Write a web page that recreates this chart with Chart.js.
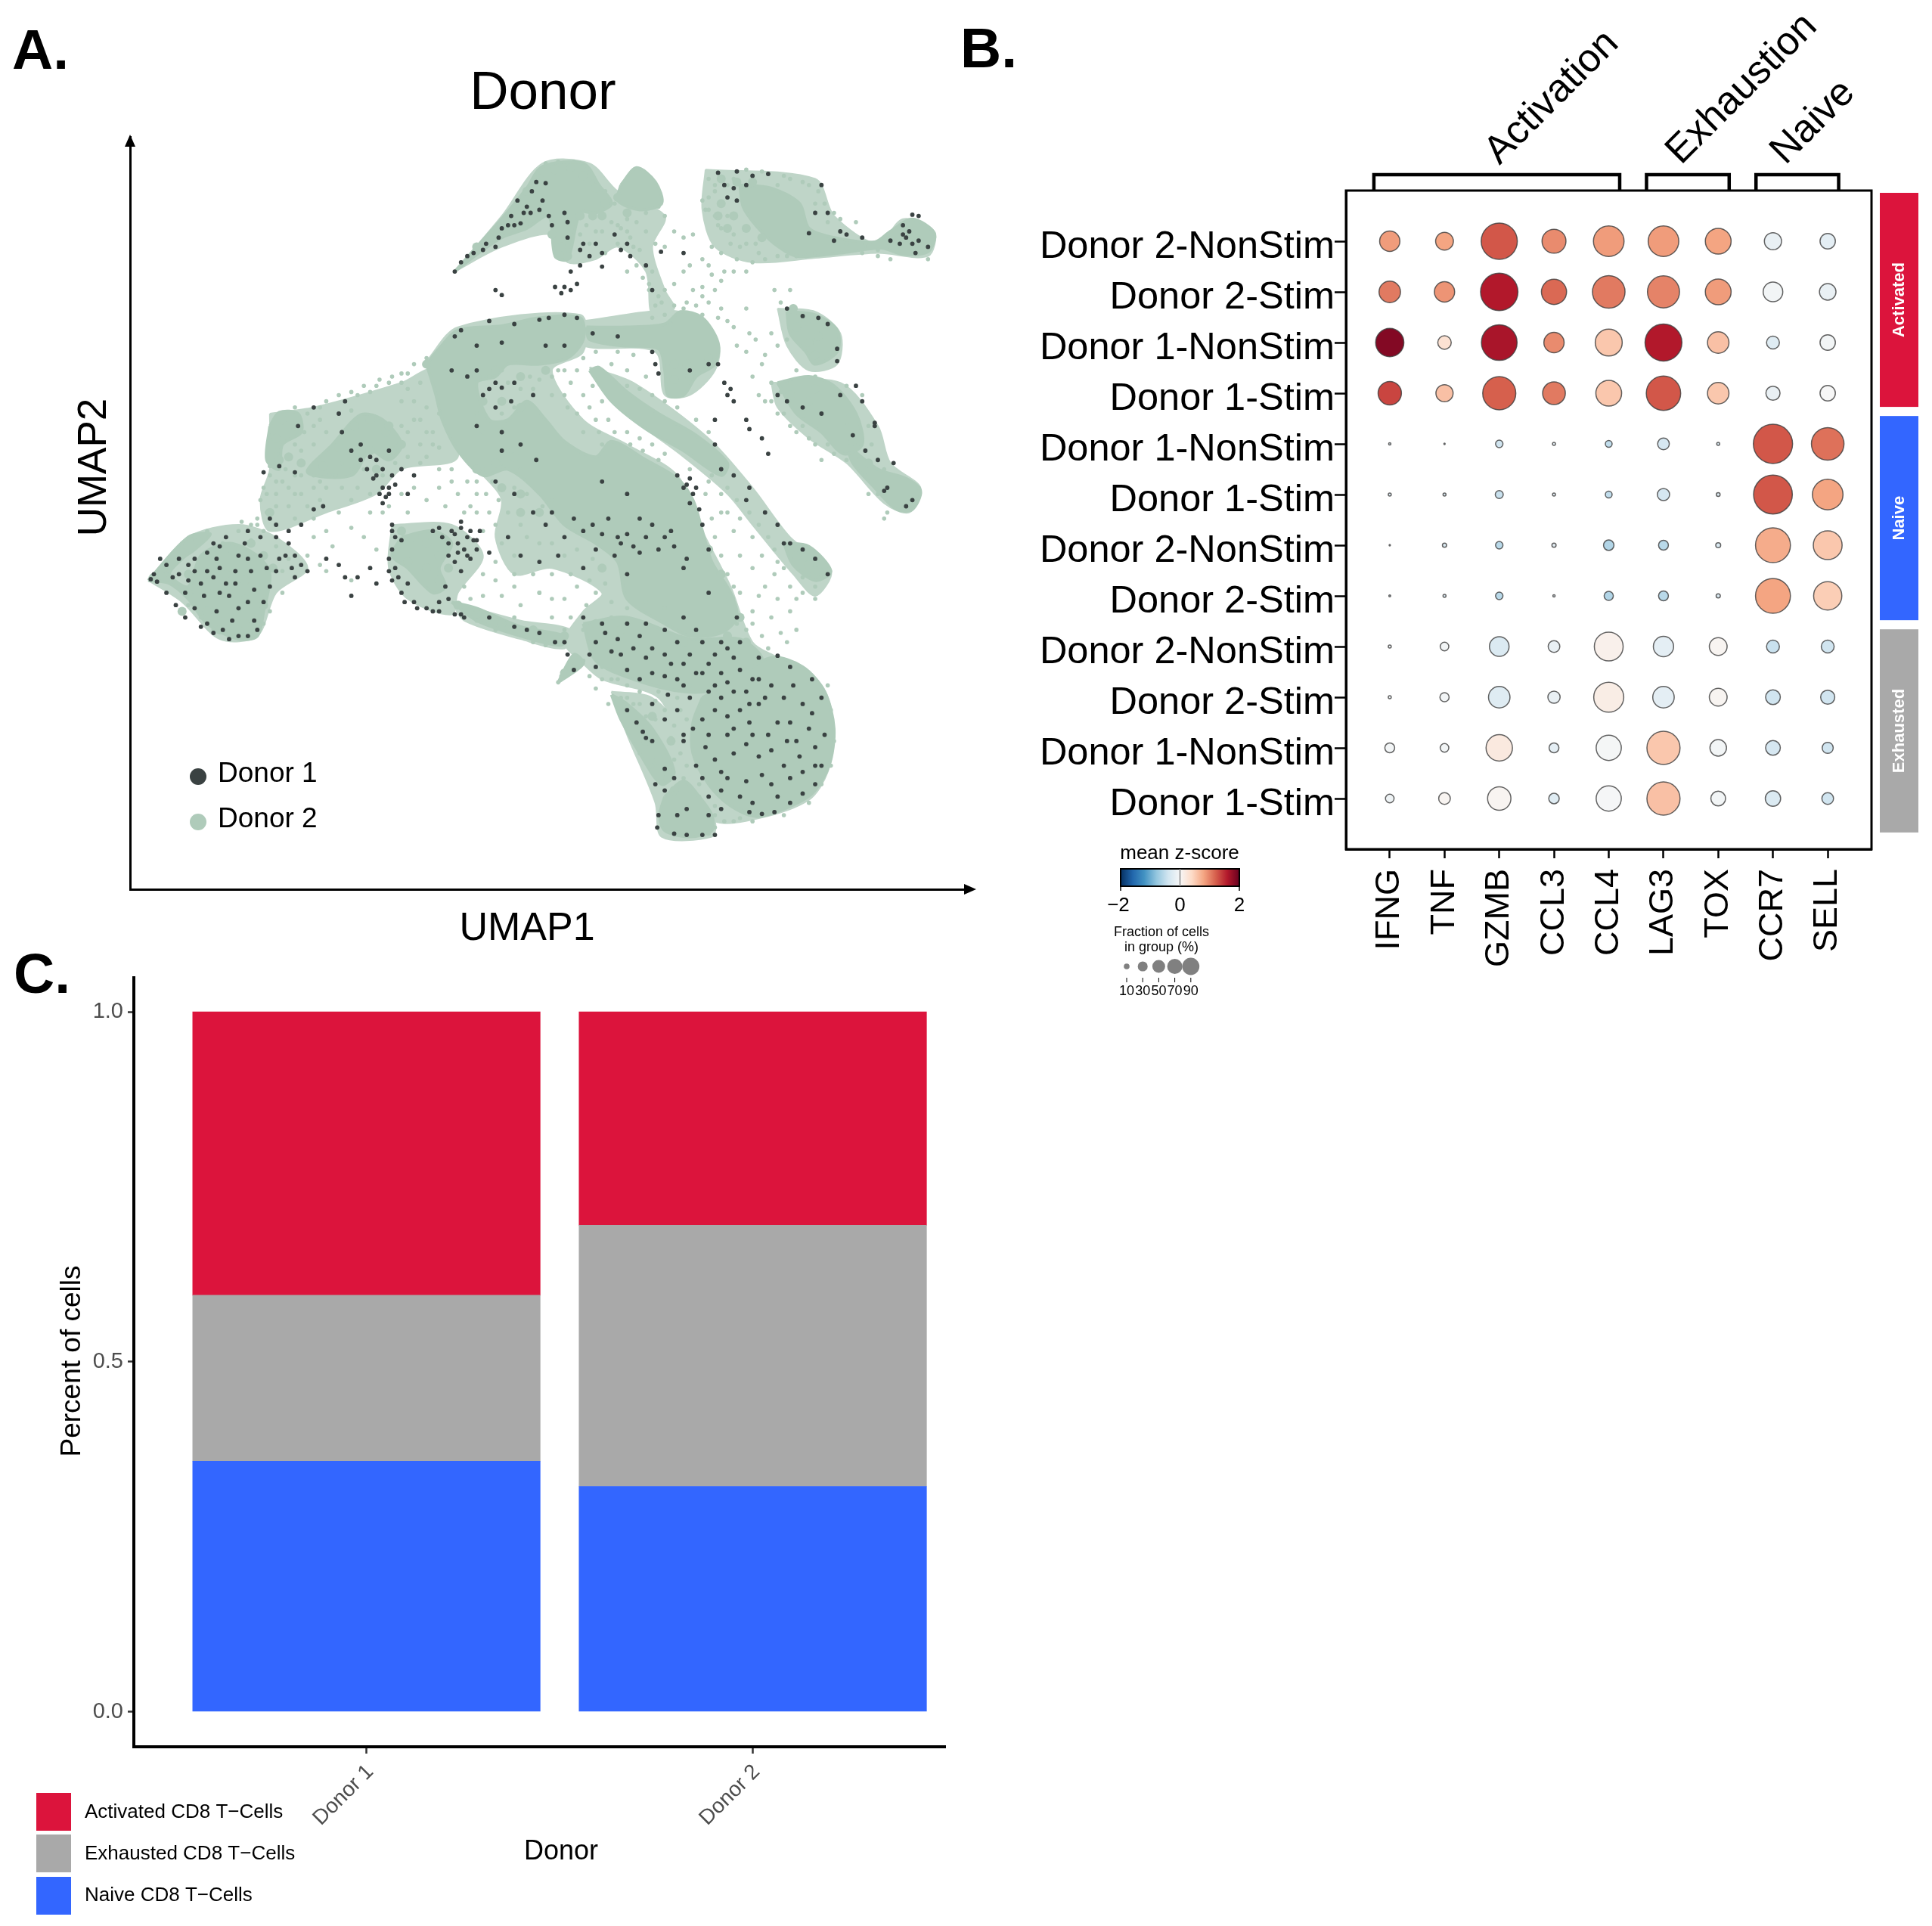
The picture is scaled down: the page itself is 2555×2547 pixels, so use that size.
<!DOCTYPE html>
<html><head><meta charset="utf-8">
<style>html,body{margin:0;padding:0;background:#fff;width:2555px;height:2547px;overflow:hidden}canvas{position:absolute;left:0;top:0}</style>
<script src="https://cdn.jsdelivr.net/npm/chart.js@4"></script>
</head><body>
<canvas id="a" width="2555" height="2547"></canvas>
<canvas id="b" width="2555" height="2547"></canvas>
<canvas id="c" width="2555" height="2547"></canvas>
<script>
// ---------- Panel A values (UMAP units, no ticks in the source) ----------
// NOTE: the source has many thousands of cells that cannot be read one by one.
// These lists are an approximation estimated by eye: donor1Cells / donor2Sparse are a
// sample of visible dots, donor2Dense are enlarged dots, and donor2Regions / donor2Envelopes
// are hand-traced outlines standing in for areas where dots merge into a solid mass.
const donor1Cells=[[735,425],[725,440],[745,415],[770,405],[790,400],[775,395],[815,350],[825,325],[835,345],[855,295],[870,297],[848,310],[800,370],[810,365],[830,362],[846,345],[860,340],[875,350],[900,345],[905,385],[925,405],[950,395],[980,380],[990,405],[1005,415],[1030,430],[900,465],[910,470],[895,475],[885,465],[920,460],[910,440],[790,470],[800,478],[925,430],[940,415],[960,432],[1040,470],[1145,280],[1175,278],[1200,285],[1225,282],[1310,300],[1160,320],[1175,325],[1300,345],[1320,345],[1340,375],[1290,378],[1350,380],[1440,365],[1455,348],[1465,350],[1450,375],[1435,395],[1460,410],[1480,400],[1465,390],[1445,385],[1420,390],[1054,408],[1090,410],[735,535],[725,545],[780,520],[820,525],[860,518],[875,515],[900,510],[920,515],[945,540],[985,545],[1040,570],[1045,590],[1100,600],[1050,605],[1130,590],[1145,590],[1155,620],[1165,630],[1170,650],[1190,680],[1215,710],[1225,735],[1160,640],[1195,695],[1140,680],[1140,720],[1150,760],[1255,500],[1280,512],[1305,515],[1320,525],[1335,565],[1335,585],[1255,650],[1280,660],[1310,670],[1340,640],[1365,625],[1375,650],[1395,685],[1360,705],[1400,745],[1425,750],[1415,790],[1445,820],[1455,810],[1395,690],[1380,730],[1410,795],[1240,640],[1080,770],[1095,785],[1105,800],[1115,825],[1120,850],[1130,890],[1170,770],[1195,790],[1190,810],[1220,830],[1240,850],[1260,880],[1280,890],[1300,905],[1320,930],[1250,880],[240,938],[250,942],[265,915],[330,895],[345,905],[340,880],[360,870],[395,860],[415,870],[440,870],[460,880],[470,900],[490,925],[470,935],[430,950],[420,975],[400,925],[380,900],[350,920],[320,945],[295,960],[310,985],[330,1010],[355,1020],[380,1030],[410,1020],[300,915],[275,935],[445,905],[415,900],[390,880],[365,965],[380,985],[345,990],[500,825],[515,820],[480,850],[460,860],[440,850],[430,840],[550,650],[540,670],[545,700],[560,730],[590,740],[585,760],[600,770],[610,790],[620,790],[630,785],[615,805],[640,760],[620,730],[650,800],[660,770],[470,765],[420,765],[445,755],[475,690],[500,660],[625,850],[630,870],[625,890],[630,920],[625,940],[640,960],[660,975],[680,985],[700,975],[700,990],[720,860],[735,855],[745,870],[730,880],[740,890],[765,860],[760,890],[715,900],[700,855],[690,860],[725,910],[710,950],[715,970],[735,995],[750,905],[780,895],[590,920],[570,935],[550,935],[560,965],[600,945],[540,915],[520,905],[790,620],[780,630],[800,628],[760,600],[720,600],[815,650],[800,700],[790,780],[810,870],[830,900],[820,800],[850,830],[870,850],[900,870],[930,860],[950,890],[970,840],[985,870],[1000,865],[1020,840],[1040,850],[980,900],[930,920],[890,900],[860,910],[1000,930],[1050,890],[1070,860],[1090,920],[1130,960],[1000,800],[960,780],[900,1040],[930,1000],[960,1010],[950,1040],[975,1055],[990,1060],[1020,1030],[1040,1050],[1060,1060],[1080,1040],[1100,1060],[1120,1040],[1140,1060],[1160,1050],[1175,1000],[1180,1040],[1030,1010],[1060,1020],[1090,1000],[1110,1020],[950,1080],[1000,1085],[1040,1090],[1080,1100],[1120,1090],[1150,1090],[1180,1085],[1210,1065],[1240,1062],[1260,1080],[1200,1100],[1170,1120],[1130,1120],[1100,1130],[1140,1150],[905,1060],[915,1085],[885,1040],[860,1025],[840,1020],[820,1015],[780,1000],[740,1000],[725,995],[1150,1130],[1180,1150],[1210,1140],[1250,1130],[1280,1140],[1310,1130],[1290,1180],[1270,1200],[1240,1170],[1200,1190],[1160,1190],[1125,1210],[1140,1230],[1170,1220],[1210,1225],[1250,1240],[1280,1250],[1310,1240],[1300,1210],[1230,1270],[1190,1265],[1160,1260],[1200,1300],[1215,1318],[1235,1315],[1260,1300],[1280,1285],[1300,1270],[1130,1190],[1105,1180],[1090,1200],[1110,1240],[1130,1290],[1150,1280],[1000,1150],[1015,1170],[1025,1185],[1030,1195],[1040,1200],[1060,1165],[1090,1190],[1060,1245],[1075,1260],[1045,1270],[1060,1280],[1050,1320],[1048,1340],[1075,1350],[1095,1352],[1120,1352],[1140,1352],[1095,1310],[1080,1320],[1130,1320],[1040,1140],
[285,905],[310,925],[330,925],[360,945],[395,905],[425,920],[300,940],[340,935],[375,945],[405,955],[440,925],[465,920],[455,900],[265,960],[280,980],[295,1000],[320,1015],[340,1025],[365,1035],[395,1030],[405,1005],[395,975],[370,1005],[350,960],[375,925],[325,965],[350,885],[310,905],[285,930],[255,905],[245,930],[480,915],
[735,845],[750,860],[725,865],[755,875],[745,900],[715,880],[705,870],[760,875],[730,895],[735,925],[645,975],[665,985],[690,990],[625,860],[640,875],[620,905],[635,935],[650,945],[620,925],
[600,745],[610,760],[595,775],[605,800],[625,770],[620,800],[575,745],[610,815],[575,720],
[990,880],[1010,885],[1030,870],[1020,895],[960,865],[945,850],[915,840],[880,830],[1060,870],[1075,885],[1095,905],[1090,790],[1100,775],[1110,790],[1100,815],
[1010,1050],[1030,1065],[1070,1075],[1110,1090],[1130,1075],[1150,1040],[1170,1065],[1090,1075],[1060,1095],[1020,1100],[985,1035],[965,1025],[940,1060],[1000,1010],[1140,1110],[1160,1105],[1190,1120],[1210,1100],[1230,1110],[1220,1130],[1195,1140],[1160,1160],[1120,1165],[1080,1150],[1065,1125],[1090,1110],
[1170,1180],[1190,1205],[1225,1190],[1255,1200],[1260,1170],[1295,1155],[1215,1255],[1240,1290],[1180,1290],[1150,1310],[1195,1315],[1260,1260],[1275,1225],[1230,1215],[1150,1250],[1120,1260],[1300,1240],[1315,1190],[1195,1170],[1265,1110],[1295,1100],
[820,365],[840,335],[865,325],[880,365],[905,360],[930,395],[960,410],[1000,395],[795,385],[755,410],[1155,300],[1170,305],[1190,300],[1330,390],[1375,385],[1440,380],[1455,395],
[900,560],[870,560],[800,555],[760,560],[745,610],[770,640],[790,660],[820,620],[850,640],[760,690],[800,730],[830,720],[855,745]];
const donor2Sparse=[[870,265],[890,262],[915,262],[930,270],[945,295],[965,310],[980,330],[1000,355],[1030,345],[1050,335],[1060,350],[975,360],[990,370],[960,375],[1010,400],[1040,440],[1050,480],[1035,470],[1060,470],[1075,460],[1090,440],[1100,430],[1120,420],[1130,430],[1150,455],[1140,470],[1120,480],[1110,495],[1095,490],[1075,495],[1060,510],[1120,510],[1150,500],[1170,440],[1200,425],[1190,440],[1075,375],[1090,385],[1105,380],[1140,350],[1125,340],[1130,320],[1140,310],[1150,370],[1170,380],[1180,400],[1210,410],[1240,415],[1270,415],[1300,410],[1290,300],[1260,290],[1240,300],[1300,330],[1320,360],[1340,355],[1365,360],[1420,420],[1480,420],[1400,405],[1380,395],[1235,470],[1245,490],[1260,470],[1190,500],[1195,540],[1170,530],[1215,590],[1200,610],[1240,560],[1255,550],[1230,540],[1220,575],[1210,640],[1220,650],[1240,670],[1260,690],[1270,700],[1320,720],[1310,745],[1350,745],[1385,800],[1410,840],[1415,830],[1465,790],[930,580],[950,570],[975,590],[1000,600],[1020,630],[1040,640],[1060,650],[1080,660],[1110,680],[1130,700],[1000,625],[985,570],[1010,575],[1030,610],[960,650],[950,680],[930,640],[910,620],[890,600],[880,640],[905,660],[930,700],[960,720],[980,700],[1000,700],[1020,710],[1040,720],[1060,735],[1100,760],[1130,780],[1150,800],[1160,830],[1170,860],[1180,900],[1200,920],[1220,950],[1240,970],[1260,990],[1280,960],[1300,950],[1180,960],[1200,990],[1190,1020],[1230,1000],[1160,930],[1140,870],[1150,900],[1170,950],[1240,910],[1260,950],[1290,930],[1300,970],[1255,1040],[1270,1020],[1225,1050],[420,790],[415,810],[425,830],[440,800],[460,820],[480,800],[500,790],[510,780],[525,770],[545,790],[570,790],[590,800],[560,810],[540,830],[520,860],[530,885],[560,855],[580,870],[600,890],[590,830],[610,830],[650,830],[620,820],[680,810],[700,790],[720,780],[770,760],[785,780],[795,810],[810,830],[830,850],[780,830],[760,800],[750,820],[740,830],[820,790],[840,800],[865,820],[880,810],[900,830],[830,760],[810,730],[800,750],[430,770],[470,660],[490,670],[510,660],[540,640],[560,635],[600,625],[620,620],[640,620],[650,605],[660,590],[680,580],[560,665],[520,700],[500,720],[480,730],[470,800],[700,670],[680,660],[670,680],[680,700],[660,650],[650,700],[640,690],[490,900],[500,870],[520,925],[510,915],[560,940],[760,990],[790,1000],[810,1010],[840,1020],[870,1030],[900,1020],[760,1005],[820,1000],[790,1020],[900,1090],[910,1075],[930,1070],[950,1055],[890,1105],[895,1095],[915,1080],[240,935],[255,925],[270,905],[290,880],[310,870],[330,860],[355,880],[380,860],[400,875],[440,885],[460,905],[450,925],[450,960],[430,990],[420,1010],[395,1030],[370,1030],[340,1020],[320,1000],[300,980],[280,950],[265,930],[400,850],[385,845],[880,1000],[910,1000],[880,970],[860,960],[820,950],[790,940],[770,930],[740,950],[750,970],[770,965],[800,965],[830,980],[920,950],[950,960],[975,975],[1000,985],[1030,975],[1060,985],[930,1020],[960,1080],[975,1100],[1000,1110],[990,1130],[1020,1120],[1050,1120],[1080,1130],[1100,1110],[1060,1150],[1045,1165],[1050,1200],[1070,1195],[1075,1230],[1020,1220],[1040,1240],[1090,1260],[1075,1285],[1150,1310],[1180,1310],[1170,1330],[1130,1350],[1140,1340],[1320,1110],[1325,1150],[1330,1200],[1325,1240],[1310,1270],[1290,1300],[1250,1320],[1200,1330],[1180,1325],
[1140,300],[1130,340],[1120,325],[1160,300],[1170,290],[1190,275],[1215,278],[1250,285],[1280,295],[1305,310],[1315,330],[1330,345],[1130,290],[1145,365],[1160,350],[1165,395],[1190,395],[1205,395],[1135,400],[1150,410],[1175,420],[1220,420],[1255,415],[1285,415],[1310,412],[1350,395],[1375,410],[1400,415],[985,365],[1000,375],[1015,360],[1030,375],[1045,395],[1060,400],[1005,385],[1020,405],[985,395],[965,410],[950,375],[940,395],[925,380],[935,365],[1000,440],[1015,430],[1025,450],[1035,460],[1045,495],[1055,490],[1040,515],[1070,525],[1090,500],[1105,470],[1120,465],[1135,445],[1155,440],[1130,490],[1145,515],[1160,520],[1175,560],[1190,570],[1205,550],
[650,630],[670,620],[640,650],[660,680],[690,700],[700,725],[680,740],[700,760],[720,760],[745,780],[760,780],[775,800],[730,800],[710,820],[760,830],[790,850],[770,860],[800,880],[820,900],[840,870],[860,880],[880,880],[900,900],[920,890],[945,905],[940,940],[910,930],[880,930],[850,930],[820,930],[790,910],[860,960],[900,970],[935,980],[965,945],[975,1000],[800,600],[810,620],[830,630],[850,630],[820,660],[780,610],[800,670],[770,700],[760,670],[880,610],[900,640],[920,670],[940,660],[860,615],[845,610],[900,600],[920,600],[945,625],[970,680],[955,700],[985,720],[1005,720],[1025,730],[1050,745],
[1135,770],[1160,790],[1175,810],[1195,830],[1210,850],[1225,870],[1200,870],[1180,840],[1150,830],[1135,840],[1125,800],[1215,900],[1235,890],[1250,920],[1280,935],[1270,970],[1310,930],[1235,930],[1210,965],[1175,1010],[1200,1010],[1215,1030],[1245,1025],
[420,860],[410,850],[425,800],[410,840],[440,820],[460,790],[480,770],[500,770],[520,790],[510,810],[490,820],[470,840],[500,840],[440,780],[430,755],[470,770],[450,780],[580,760],[560,760],[575,740],[545,750],[535,770],[610,770],[630,750],[650,740],[670,720],[690,720],[670,750],[660,790],[640,800],[470,720],[485,700],[500,690],[510,680],[455,760],[440,730],[520,650],[570,640],[590,635],[625,610],[640,605],[605,615],[580,625],
[1260,620],[1230,620],[1245,635],[1230,650],[1250,670],[1280,690],[1290,710],[1300,720],[1330,735],[1370,745],[1380,770],[1400,800],[1370,700],[1385,690],[1390,720],[1410,760],[1375,640],[1350,625],[1300,610],[1270,600],
[850,1040],[870,1045],[960,1100],[940,1095],[950,1115],[970,1140],[985,1100],[1020,1140],[1045,1135],[1085,1150],[1095,1165],[1075,1175],[1085,1220],[1095,1240],[1115,1270],[1115,1290],[1140,1305],[1140,1320],[1155,1330],[1030,1160],[1010,1140],[1000,1130]];
const donor2Dense=[[840,310],[820,340],[800,365],[780,385],[760,400],[860,290],[885,275],[910,272],[930,285],[950,305],[965,330],[960,350],[880,380],[895,400],[905,415],[925,350],[945,350],[860,345],[835,365],[985,320],[1000,345],[1150,290],[1175,295],[1200,295],[1150,330],[1170,350],[1190,370],[1215,385],[1160,370],[1145,350],[950,540],[980,545],[1095,590],[1075,615],[1100,610],[1075,590],[1130,580],[680,590],[760,610],[790,600],[830,610],[870,600],[770,650],[800,650],[800,700],[830,660],[760,760],[790,750],[820,740],[800,790],[830,800],[860,830],[830,830],[1130,890],[1150,930],[1165,970],[1180,1000],[960,920],[1090,1040],[1130,1040],[1160,1030],[1190,1040],[950,1010],[990,1020],[1270,900],[1290,915],[1305,925],[1285,520],[1305,545],[1290,555],[1270,530],[1300,575],[1265,500],[1260,640],[1290,650],[1300,630],[1350,680],[1360,715],[1385,750],[450,680],[470,690],[440,710],[460,740],[445,745],[480,750],[565,690],[590,680],[615,700],[540,725],[515,755],[590,730],[625,730],[620,690],[640,720],[430,830],[600,760],[640,880],[660,870],[680,880],[700,900],[650,910],[680,920],[700,940],[715,920],[640,860],[730,980],[760,995],[800,1010],[850,1020],[900,1030],[900,1090],[260,920],[245,935],[290,895],[315,875],[340,900],[370,890],[400,880],[420,900],[435,920],[300,930],[330,930],[360,930],[390,940],[420,950],[330,960],[360,960],[390,970],[420,980],[300,960],[330,990],[360,1000],[390,1010],[410,1000],[350,1020],[290,990],[990,1150],[1010,1175],[1030,1200],[1050,1230],[1065,1260],[1075,1280],[1040,1160],[1070,1200]];
const donor2Regions=[
[[725,440],[760,400],[800,355],[840,305],[865,270],[930,265],[955,300],[975,330],[950,345],[925,345],[905,420],[885,415],[875,350],[840,370],[800,385],[770,405]],
[[990,300],[1015,272],[1045,295],[1055,330],[1020,340],[985,325]],
[[1180,300],[1230,305],[1275,330],[1290,370],[1330,385],[1395,392],[1420,375],[1455,355],[1490,378],[1480,408],[1440,412],[1405,402],[1340,410],[1270,415],[1235,395],[1205,365],[1185,335]],
[[680,590],[700,565],[730,535],[800,528],[860,515],[925,515],[930,550],[905,580],[860,590],[810,590],[790,610],[760,620],[780,680],[810,680],[840,650],[870,680],[900,715],[950,740],[975,715],[1030,745],[1080,775],[1105,810],[1120,860],[1135,910],[1165,960],[1175,1000],[1150,1025],[1100,1030],[1060,1010],[1000,970],[985,910],[950,880],[900,850],[860,800],[810,760],[770,770],[730,730],[705,680],[695,640]],
[[935,530],[1000,530],[1060,525],[1085,505],[1120,515],[1145,555],[1140,590],[1110,610],[1090,640],[1065,640],[1060,600],[1050,565],[990,560],[940,550]],
[[1255,505],[1300,510],[1335,535],[1335,570],[1300,590],[1285,570],[1260,540]],
[[1240,620],[1290,610],[1330,625],[1365,670],[1375,720],[1345,735],[1310,700],[1270,670]],
[[1350,720],[1400,760],[1445,775],[1468,795],[1455,825],[1430,825],[1395,790],[1360,750]],
[[940,600],[955,595],[1000,635],[1050,670],[1110,705],[1160,750],[1150,770],[1090,730],[1030,695],[975,650]],
[[430,690],[445,668],[475,670],[480,700],[450,720],[445,760],[425,745]],
[[530,720],[575,672],[610,680],[640,720],[620,745],[590,730],[560,770],[490,765]],
[[640,870],[690,860],[720,880],[700,920],[710,950],[690,960],[650,920],[625,900]],
[[236,940],[300,870],[335,865],[310,890],[290,905],[270,930],[300,950],[320,900],[365,880],[410,900],[430,930],[420,990],[410,1030],[380,1035],[330,1010],[300,970],[270,945]],
[[1120,1130],[1170,1100],[1230,1065],[1280,1080],[1315,1120],[1330,1180],[1322,1240],[1295,1285],[1250,1310],[1205,1322],[1165,1305],[1130,1270],[1105,1220],[1105,1170]],
[[1060,1290],[1090,1265],[1115,1290],[1135,1320],[1135,1345],[1100,1355],[1060,1345],[1052,1320]],
[[975,1125],[1000,1140],[1040,1180],[1075,1250],[1055,1270],[1020,1220],[990,1165]],
[[930,1010],[1000,1000],[1100,1035],[1180,1035],[1215,1070],[1150,1115],[1090,1120],[1010,1100],[950,1070]],
[[890,1105],[915,1060],[930,1075]],
[[720,975],[760,985],[830,1015],[900,1030],[895,1045],[830,1030],[760,1005]],
[[1250,880],[1290,885],[1325,925],[1300,940],[1265,915]]];
const donor2Envelopes=[
[[725,440],[800,350],[865,265],[940,265],[985,310],[1060,350],[1040,400],[1060,470],[1075,500],[1040,510],[1030,440],[985,400],[950,420],[905,425],[880,380],[800,400]],
[[1125,275],[1300,290],[1330,350],[1400,395],[1440,355],[1490,375],[1480,415],[1400,410],[1300,418],[1200,425],[1140,400],[1120,340]],
[[680,585],[730,530],[925,510],[930,570],[880,600],[930,680],[1000,720],[1080,770],[1120,860],[1165,950],[1200,1040],[1240,1065],[1310,1110],[1330,1180],[1320,1250],[1290,1295],[1210,1325],[1140,1330],[1110,1280],[1080,1200],[1050,1130],[960,1100],[930,1075],[900,1040],[930,990],[960,960],[880,920],[820,930],[790,870],[800,810],[770,770],[730,730],[705,680]],
[[930,520],[1085,505],[1145,555],[1140,600],[1100,640],[1060,640],[1045,570],[930,560]],
[[430,670],[500,660],[640,620],[690,600],[730,740],[640,760],[600,800],[520,830],[430,860],[415,810],[430,760]],
[[236,940],[300,870],[380,850],[440,870],[490,920],[440,960],[410,1030],[350,1035],[290,975]],
[[625,850],[720,850],[770,900],[730,960],[720,995],[650,970],[620,920]],
[[1240,500],[1300,505],[1340,540],[1335,590],[1290,600],[1255,560]],
[[1230,620],[1340,620],[1400,690],[1420,750],[1468,790],[1450,830],[1410,815],[1350,750],[1290,710],[1240,660]],
[[940,595],[1010,620],[1130,710],[1200,790],[1260,870],[1325,925],[1300,965],[1265,930],[1200,850],[1160,800],[1090,740],[1000,670]],
[[975,1120],[1040,1130],[1090,1190],[1110,1280],[1140,1330],[1135,1355],[1055,1355],[1045,1300],[1000,1190]],
[[720,975],[830,1005],[910,1020],[900,1050],[830,1035],[740,1005]]];
const umapLegend=['Donor 1','Donor 2'];

// ---------- Panel B values ----------
const genes=['IFNG','TNF','GZMB','CCL3','CCL4','LAG3','TOX','CCR7','SELL'];
const conditions=['Donor 2-NonStim','Donor 2-Stim','Donor 1-NonStim','Donor 1-Stim','Donor 1-NonStim','Donor 1-Stim','Donor 2-NonStim','Donor 2-Stim','Donor 2-NonStim','Donor 2-Stim','Donor 1-NonStim','Donor 1-Stim'];
const fractionPct=[
[23.2,17.9,74,32.4,53,53,37.6,16.7,13.3],
[26.1,23.2,79,35.8,60,58,37.6,21.8,15.5],
[45,10.3,72,23.2,41.2,77,26.1,9.4,13.3],
[30.8,16.7,62,29.2,37.6,67,26.1,11.3,13.3],
[0.3,0.1,3.1,0.5,2.6,7.7,0.5,87,60],
[0.5,0.5,3.6,0.5,2.6,8.5,0.8,85,53],
[0.1,1,3.1,1,6.2,5.5,1.4,69,47],
[0.2,0.5,3.1,0.3,4.8,5.5,1,69,45],
[0.5,4.2,21.8,7.7,47,23.2,17.9,9.4,9.4],
[0.5,4.8,26.1,8.5,51,26.1,17.9,12.3,11.3],
[5.5,4.2,39.4,5.5,35.8,62,15.5,12.3,6.9],
[4.2,7.7,30.8,6.2,35.8,62,12.3,13.3,7.7]];
const meanZ=[
[.85,.8,1.25,.95,.85,.85,.8,-.15,-.2],
[1.05,.9,1.6,1.15,1.05,1,.85,-.05,-.15],
[1.85,.3,1.65,.95,.55,1.6,.6,-.25,-.05],
[1.35,.6,1.2,1.05,.55,1.25,.55,-.15,0],
[-.25,-.3,-.4,-.2,-.5,-.35,-.3,1.25,1.1],
[-.25,-.3,-.45,-.2,-.5,-.35,-.25,1.25,.8],
[-.3,-.3,-.55,-.2,-.6,-.55,-.3,.75,.55],
[-.3,-.3,-.55,-.2,-.6,-.55,-.3,.8,.5],
[-.1,-.05,-.3,-.15,.1,-.2,.05,-.45,-.4],
[-.1,-.05,-.25,-.15,.15,-.2,.05,-.4,-.4],
[-.05,-.05,.2,-.2,-.03,.55,-.05,-.35,-.4],
[-.1,.05,.05,-.25,-.02,.6,-.05,-.3,-.4]];
const geneGroups=['Activation','Exhaustion','Naive'];
const rowGroups=['Activated','Naive','Exhausted'];
const sizeLegend=[10,30,50,70,90];

// ---------- Panel C values ----------
const donors=['Donor 1','Donor 2'];
const naiveShare=[.358,.322];
const exhaustedShare=[.237,.373];
const activatedShare=[.405,.305];
const shareTicks=[0,.5,1];

// ---------- Helpers ----------
const SANS='"Liberation Sans"';
const RED='#DC143C',GREY='#A9A9A9',BLUE='#3366FF',SAGE='#AFCBBA',TINT='#BFD5C8',INK='#3A4242';
Chart.defaults.animation=false;
Chart.defaults.responsive=false;
Chart.defaults.devicePixelRatio=1;
Chart.defaults.plugins.legend.display=false;
Chart.defaults.plugins.tooltip.enabled=false;
Chart.defaults.font.family=SANS;
const W=2555,H=2547;
const fixSize=n=>s=>{if(s.isHorizontal())s.height=n;else s.width=n;};
function text(c,s,x,y,font,color='#000',align='center',rot=0,base='middle'){
  c.save();c.translate(x,y);c.rotate(rot*Math.PI/180);c.font=font+' '+SANS;c.fillStyle=color;c.textAlign=align;c.textBaseline=base;c.fillText(s,0,0);c.restore();
}
const pts=a=>a.map(p=>({x:p[0],y:p[1]}));
const RDBU=['#053061','#2166ac','#4393c3','#92c5de','#d1e5f0','#f7f7f7','#fddbc7','#f4a582','#d6604d','#b2182b','#67001f'];
const hex=h=>[1,3,5].map(i=>parseInt(h.substr(i,2),16));
function zColor(z){const t=Math.max(0,Math.min(.9999,(z+2)/4))*10,i=Math.floor(t),f=t-i,a=hex(RDBU[i]),b=hex(RDBU[i+1]);
  return 'rgb('+a.map((v,k)=>Math.round(v+(b[k]-v)*f)).join(',')+')';}
const regionSet=(r,col,label,bw)=>({label,data:pts([...r,r[0]]),showLine:true,fill:'shape',tension:.3,backgroundColor:col,borderColor:col,borderWidth:bw,pointRadius:0});

// ---------- Panel A ----------
new Chart(document.getElementById('a'),{type:'scatter',
 data:{datasets:[
  {label:'Donor 1',data:pts(donor1Cells),backgroundColor:INK,borderWidth:0,pointRadius:2.9},
  {label:'Donor 2',data:pts(donor2Sparse),backgroundColor:SAGE,borderWidth:0,pointRadius:2.8},
  {label:'Donor 2 dense',data:pts(donor2Dense),backgroundColor:SAGE,borderWidth:0,pointRadius:6},
  ...donor2Regions.map(r=>regionSet(r,SAGE,'Donor 2 core',4)),
  ...donor2Envelopes.map(r=>regionSet(r,TINT,'Donor 2 spread',2))]},
 options:{layout:{padding:{left:172,top:181,right:W-1282,bottom:H-1176}},
  scales:{
   x:{type:'linear',min:207,max:1546,afterFit:fixSize(0),ticks:{display:false},grid:{display:false},border:{color:'#000',width:3}},
   y:{type:'linear',min:222,max:1440,reverse:true,afterFit:fixSize(0),ticks:{display:false},grid:{display:false},border:{color:'#000',width:3}}}},
 plugins:[{id:'panelA',afterDraw(ch){const c=ch.ctx;
  c.fillStyle='#000';
  c.beginPath();c.moveTo(172,178);c.lineTo(165,194);c.lineTo(179,194);c.fill();
  c.beginPath();c.moveTo(1291,1176);c.lineTo(1275,1169);c.lineTo(1275,1183);c.fill();
  text(c,'A.',16,91,'bold 75px','#000','left',0,'alphabetic');
  text(c,'Donor',718,124,'71px');
  text(c,'UMAP1',697,1229,'52px');
  text(c,'UMAP2',125,618,'53px','#000','center',-90);
  [INK,SAGE].forEach((col,i)=>{c.fillStyle=col;c.beginPath();c.arc(262,1027+i*60,11,0,7);c.fill();
   text(c,umapLegend[i],288,1024+i*60,'37px','#000','left');});
 }}]});

// ---------- Panel B ----------
const bubbles=[],bubbleColors=[];
conditions.forEach((_,r)=>genes.forEach((_,g)=>{
  bubbles.push({x:g,y:r,r:2.78*Math.sqrt(fractionPct[r][g])});
  bubbleColors.push(zColor(meanZ[r][g]));
}));
new Chart(document.getElementById('b'),{type:'bubble',
 data:{datasets:[{label:'mean z-score',data:bubbles,backgroundColor:bubbleColors,borderColor:'rgba(60,60,60,.8)',borderWidth:1.5}]},
 options:{layout:{padding:{left:1780-440,top:252,right:W-2475,bottom:H-1123-240}},
  scales:{
   x:{type:'linear',min:-.8,max:8.8,afterFit:fixSize(240),afterBuildTicks:s=>{s.ticks=genes.map((_,i)=>({value:i}));},
      ticks:{callback:v=>genes[v],autoSkip:false,minRotation:90,maxRotation:90,padding:14,color:'#000',font:{size:45}},
      grid:{drawOnChartArea:false,tickLength:12,tickColor:'#000',tickWidth:2.5},border:{color:'#000',width:3}},
   y:{type:'linear',min:-1,max:12,reverse:true,afterFit:fixSize(440),afterBuildTicks:s=>{s.ticks=conditions.map((_,i)=>({value:i}));},
      ticks:{callback:v=>conditions[v],autoSkip:false,padding:0,labelOffset:8,color:'#000',font:{size:50.5}},
      grid:{drawOnChartArea:false,tickLength:15,tickColor:'#000',tickWidth:2.5},border:{color:'#000',width:3}}}},
 plugins:[{id:'panelB',afterDraw(ch){const c=ch.ctx,X=ch.scales.x,Y=ch.scales.y,A=ch.chartArea;
  c.strokeStyle='#000';c.lineWidth=3;c.strokeRect(A.left,A.top,A.right-A.left,A.bottom-A.top);
  text(c,'B.',1270,89,'bold 75px','#000','left',0,'alphabetic');
  [[-.29,4.2],[4.69,6.2],[6.69,8.2]].forEach(([a,b],i)=>{
    const x0=X.getPixelForValue(a),x1=X.getPixelForValue(b);
    c.lineWidth=4.5;c.lineJoin='miter';c.beginPath();c.moveTo(x0,A.top);c.lineTo(x0,A.top-21);c.lineTo(x1,A.top-21);c.lineTo(x1,A.top);c.stroke();
    text(c,geneGroups[i],[1983,2223,2361][i],219,'52px','#000','left',-45,'alphabetic');
  });
  [[-.955,3.27,RED],[3.45,7.48,BLUE],[7.66,11.67,GREY]].forEach(([a,b,col],i)=>{
    const y0=Y.getPixelForValue(a),y1=Y.getPixelForValue(b);
    c.fillStyle=col;c.fillRect(2486,y0,51,y1-y0);
    text(c,rowGroups[i],2511.5,(y0+y1)/2,'bold 22px','#fff','center',-90);
  });
  const cx0=1482,cx1=1639,cy0=1149,cy1=1172,g=c.createLinearGradient(cx0,0,cx1,0);
  RDBU.forEach((h,i)=>g.addColorStop(i/10,h));
  c.fillStyle=g;c.fillRect(cx0,cy0,cx1-cx0,cy1-cy0);
  c.lineWidth=2;c.strokeStyle='#000';c.strokeRect(cx0,cy0,cx1-cx0,cy1-cy0);
  text(c,'mean z-score',1560,1129,'26px');
  ['\u22122','0','2'].forEach((s,i)=>{const x=cx0+i*(cx1-cx0)/2;
    c.strokeStyle=i==1?'#888':'#000';c.lineWidth=1.5;c.beginPath();c.moveTo(x,i==1?cy0:cy1);c.lineTo(x,cy1+(i==1?0:6));c.stroke();
    text(c,s,x-(i==0?3:0),1198,'26px');});
  text(c,'Fraction of cells',1536,1233,'18px');
  text(c,'in group (%)',1536,1253,'18px');
  sizeLegend.forEach((f,i)=>{const x=1490+i*21.2,r=1.2*Math.sqrt(f);
    c.fillStyle='#808080';c.beginPath();c.arc(x,1278,r,0,7);c.fill();
    c.strokeStyle='#000';c.lineWidth=1;c.beginPath();c.moveTo(x,1293);c.lineTo(x,1299);c.stroke();
    text(c,String(f),x,1311,'18px');});
 }}]});

// ---------- Panel C ----------
const stackSet=(label,vals,col)=>({label,data:vals.map((v,i)=>({x:i+1,y:v})),backgroundColor:col,barThickness:459.5,borderWidth:0});
new Chart(document.getElementById('c'),{type:'bar',
 data:{datasets:[stackSet('Naive CD8 T\u2212Cells',naiveShare,BLUE),stackSet('Exhausted CD8 T\u2212Cells',exhaustedShare,GREY),stackSet('Activated CD8 T\u2212Cells',activatedShare,RED)]},
 options:{layout:{padding:{left:177-70,top:1293,right:W-1250,bottom:H-2310-180}},
  scales:{
   x:{type:'linear',stacked:true,offset:false,min:.398,max:2.498,afterFit:fixSize(180),afterBuildTicks:s=>{s.ticks=donors.map((_,i)=>({value:i+1}));},
      ticks:{callback:v=>donors[v-1],autoSkip:false,minRotation:45,maxRotation:45,padding:8,labelOffset:5,color:'#4d4d4d',font:{size:28}},
      grid:{drawOnChartArea:false,offset:false,tickLength:9,tickColor:'#333',tickWidth:2.5},border:{color:'#000',width:4}},
   y:{type:'linear',stacked:true,min:-.0502,max:1.0487,afterFit:fixSize(70),afterBuildTicks:s=>{s.ticks=shareTicks.map(v=>({value:v}));},
      ticks:{callback:v=>v.toFixed(1),padding:6,color:'#4d4d4d',font:{size:29}},
      grid:{drawOnChartArea:false,tickLength:8,tickColor:'#333',tickWidth:2.5},border:{color:'#000',width:4}}}},
 plugins:[{id:'panelC',afterDraw(ch){const c=ch.ctx,ds=ch.data.datasets;
  text(c,'C.',18,1313,'bold 75px','#000','left',0,'alphabetic');
  text(c,'Percent of cells',96,1800,'37px','#000','center',-90);
  text(c,'Donor',742,2449,'36px');
  [[2,2371,RED],[1,2426,GREY],[0,2482,BLUE]].forEach(([i,y,col],k)=>{
    c.fillStyle=col;c.fillRect(48,y,46,50);
    text(c,ds[i].label,112,2397+k*55,'26px','#000','left');});
 }}]});
</script>
</body></html>
